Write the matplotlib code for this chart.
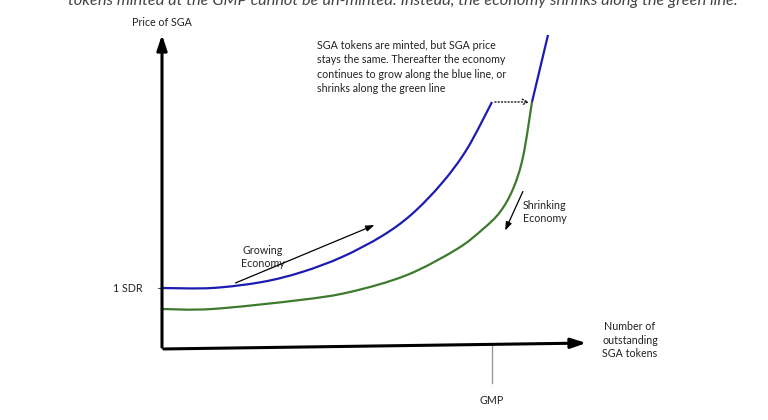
import matplotlib
matplotlib.use('Agg')
import matplotlib.pyplot as plt
from matplotlib.path import Path
from matplotlib.patches import PathPatch

# 글꼴
plt.rcParams['font.family'] = ['Lato', 'DejaVu Sans']

# 데이터 (원점 기준 가격/토큰 단위, 그림에서 읽은 값)
blue_x = [0, 50, 100, 140, 180, 220, 250, 280, 305, 330]
blue_y = [61, 61, 67, 77, 92, 113, 135, 166, 200, 247]
blue_jump_x = [370, 386]
blue_jump_y = [247, 314]

green_x = [0, 50, 138, 188, 245, 295, 321, 338, 351, 361, 370]
green_y = [40, 40, 49, 57, 74, 100, 120, 137, 160, 192, 247]

gmp_x = 330
sdr_y = 61


# 점들을 지나는 부드러운 곡선 (Catmull-Rom -> 베지어)
def smooth_path(xs, ys):
    pts = list(zip(xs, ys))
    verts = [pts[0]]
    codes = [Path.MOVETO]
    for i in range(len(pts) - 1):
        p0 = pts[i - 1] if i > 0 else pts[i]
        p1 = pts[i]
        p2 = pts[i + 1]
        p3 = pts[i + 2] if i + 2 < len(pts) else pts[i + 1]
        c1 = (p1[0] + (p2[0] - p0[0]) / 6, p1[1] + (p2[1] - p0[1]) / 6)
        c2 = (p2[0] - (p3[0] - p1[0]) / 6, p2[1] - (p3[1] - p1[1]) / 6)
        verts += [c1, c2, p2]
        codes += [Path.CURVE4] * 3
    return Path(verts, codes)


fig = plt.figure(figsize=(7.68, 4.2), dpi=100)
ax = fig.add_axes([0, 0, 1, 1])
ax.set_xlim(-162, 606)
ax.set_ylim(-71, 349)
ax.axis('off')

# 캡션 (위쪽 잘림)
ax.text(241, 344, 'tokens minted at the GMP cannot be un-minted. Instead, the economy shrinks along the green line.',
        ha='center', va='baseline', fontsize=11.8, style='italic', color='#444444')

# 축
ax.annotate('', xy=(0, 317), xytext=(0, -1),
            arrowprops=dict(arrowstyle='-|>,head_length=0.9,head_width=0.3', color='black', lw=2.2))
ax.annotate('', xy=(427, 6), xytext=(-1, 0),
            arrowprops=dict(arrowstyle='-|>,head_length=0.9,head_width=0.3', color='black', lw=2.2))
ax.text(0, 327, 'Price of SGA', ha='center', va='center', fontsize=7.7, color='#222222')
ax.text(468, 9, 'Number of\noutstanding\nSGA tokens', ha='center', va='center', fontsize=7.7,
        color='#222222', linespacing=1.25)

# 1 SDR 눈금
ax.plot([-4, 0], [sdr_y, sdr_y], color='#555555', lw=0.8)
ax.text(-19, sdr_y, '1 SDR', ha='right', va='center', fontsize=7.7, color='#222222')

# GMP 눈금
ax.plot([gmp_x, gmp_x], [4, -34], color='#999999', lw=1)
ax.text(gmp_x, -51, 'GMP', ha='center', va='center', fontsize=7.7, color='#222222')

# 곡선
ax.add_patch(PathPatch(smooth_path(green_x, green_y), fill=False, edgecolor='#3d7a2e', lw=1.6))
ax.add_patch(PathPatch(smooth_path(blue_x, blue_y), fill=False, edgecolor='#1c1cb0', lw=1.6))
ax.plot(blue_jump_x, blue_jump_y, color='#1c1cb0', lw=1.6, solid_capstyle='butt')

# 점선 화살표 (토큰 발행)
ax.annotate('', xy=(blue_jump_x[0], blue_y[-1]), xytext=(blue_x[-1], blue_y[-1]),
            arrowprops=dict(arrowstyle='->,head_length=0.4,head_width=0.2', color='black',
                            lw=0.9, linestyle=':'))

# 설명 텍스트
ax.text(155, 309, 'SGA tokens are minted, but SGA price\nstays the same. Thereafter the economy\n'
        'continues to grow along the blue line, or\nshrinks along the green line',
        ha='left', va='top', fontsize=7.7, color='#222222', linespacing=1.38)

ax.text(101, 92, 'Growing\nEconomy', ha='center', va='center', fontsize=7.7, color='#222222', linespacing=1.25)
ax.annotate('', xy=(215, 125), xytext=(71, 65),
            arrowprops=dict(arrowstyle='-|>,head_length=0.5,head_width=0.18', color='black', lw=0.9))

ax.text(361, 137, 'Shrinking\nEconomy', ha='left', va='center', fontsize=7.7, color='#222222', linespacing=1.25)
ax.annotate('', xy=(342, 116), xytext=(362, 160),
            arrowprops=dict(arrowstyle='-|>,head_length=0.5,head_width=0.18', color='black', lw=0.9))

fig.savefig('out.png', dpi=100)
